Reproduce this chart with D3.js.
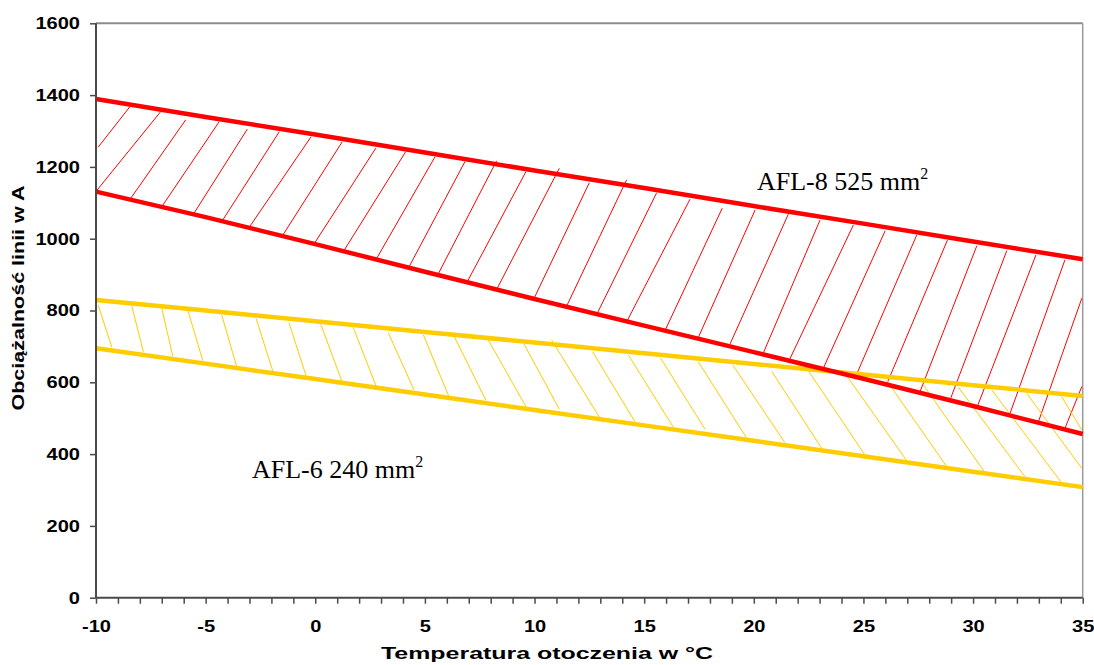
<!DOCTYPE html>
<html>
<head>
<meta charset="utf-8">
<script src="https://cdn.jsdelivr.net/npm/d3@7"></script>
<style>
  html, body { margin: 0; padding: 0; background: #ffffff; }
  svg { display: block; }
</style>
</head>
<body>
<svg id="chart" width="1094" height="665"></svg>
<script>
// ---- data ----
const temps = [-10, -5, 0, 5, 10, 15, 20, 25, 30, 35];
const afl8Upper = [1389, 1339, 1290, 1240, 1190, 1141, 1091, 1042, 992, 943];
const afl8Lower = [1131, 1060, 985, 908, 832, 758, 684, 610, 534, 456];
const afl6Upper = [829, 800, 770, 740, 711, 681, 651, 622, 592, 562];
const afl6Lower = [695, 652, 609, 566, 523, 480, 437, 394, 351, 308];

const yTicks = [0, 200, 400, 600, 800, 1000, 1200, 1400, 1600];
const xTicks = [-10, -5, 0, 5, 10, 15, 20, 25, 30, 35];
const xMinorTicks = d3.range(-10, 36, 1);

const label8 = "AFL-8 525 mm";
const label6 = "AFL-6 240 mm";
const xTitle = "Temperatura otoczenia w °C";
const yTitle = "Obciążalność linii w A";

// hatch strokes [t1, v1, t2, v2]
const afl8Hatch = [
  [-9.90, 1255, -8.45, 1368], [-9.97, 1134, -7.05, 1354], [-8.42, 1112, -5.91, 1331],
  [-7.00, 1089, -4.38, 1326], [-5.53, 1071, -3.10, 1305], [-4.24, 1050, -1.64, 1298],
  [-3.01, 1032, -0.19, 1284], [-1.50, 1008, 1.23, 1270], [-0.06, 985, 2.76, 1252],
  [1.31, 967, 4.12, 1242], [2.80, 945, 5.46, 1228], [4.28, 922, 6.83, 1215],
  [5.61, 902, 8.27, 1217], [6.93, 880, 9.61, 1187], [8.30, 862, 11.13, 1196],
  [9.98, 834, 12.50, 1156], [11.47, 813, 14.20, 1164], [12.86, 792, 15.57, 1128],
  [14.23, 772, 17.09, 1110], [15.95, 744, 18.56, 1085], [17.47, 725, 20.06, 1080],
  [18.92, 707, 21.58, 1069], [20.43, 681, 23.02, 1052], [21.62, 662, 24.54, 1038],
  [23.17, 639, 25.99, 1022], [24.66, 618, 27.43, 1010], [26.09, 599, 28.83, 996],
  [27.58, 574, 30.17, 980], [28.95, 551, 31.54, 967], [30.19, 532, 32.87, 955],
  [31.69, 514, 34.19, 941], [32.98, 490, 34.96, 834], [34.19, 472, 34.96, 588]
];
const afl6Hatch = [
  [-9.90, 815, -9.28, 698], [-8.37, 813, -7.84, 685], [-7.00, 806, -6.50, 673],
  [-5.86, 811, -5.13, 660], [-4.27, 788, -3.56, 639], [-2.70, 778, -1.94, 632],
  [-1.20, 766, -0.42, 618], [0.25, 762, 1.25, 597], [1.73, 753, 2.77, 590],
  [3.33, 738, 4.50, 579], [4.93, 732, 6.11, 558], [6.30, 732, 7.79, 549],
  [7.89, 718, 9.61, 532], [9.49, 710, 11.13, 525], [10.78, 718, 13.11, 488],
  [12.65, 685, 14.58, 490], [14.28, 676, 16.33, 475], [15.75, 667, 17.78, 469],
  [17.47, 657, 19.65, 447], [19.04, 648, 21.42, 432], [20.82, 630, 23.10, 416],
  [22.49, 632, 25.15, 390], [24.16, 625, 26.97, 382], [26.06, 605, 28.80, 365],
  [27.73, 593, 30.55, 348], [29.33, 586, 32.37, 337], [30.85, 579, 34.04, 320],
  [32.45, 569, 34.96, 360], [34.04, 560, 34.96, 467]
];

// ---- drawing ----
const svg = d3.select("#chart");
const x = d3.scaleLinear().domain([-10, 35]).range([96, 1082.7]);
const y = d3.scaleLinear().domain([0, 1600]).range([597.7, 23.3]);

const RED = "#ff0000", GOLD = "#ffcc00";
const SANS = "'Liberation Sans', Arial, sans-serif";
const STRETCH = 1.18;

// frame (top and right)
svg.append("line").attr("x1", x(-10)).attr("x2", x(35)).attr("y1", y(1600)).attr("y2", y(1600))
  .attr("stroke", "#8c8c8c").attr("stroke-width", 2);
svg.append("line").attr("x1", x(35)).attr("x2", x(35)).attr("y1", y(1600)).attr("y2", y(0))
  .attr("stroke", "#9a9a9a").attr("stroke-width", 1.5);

// hatches
const hatchG = svg.append("g");
hatchG.selectAll("line.h8").data(afl8Hatch).join("line")
  .attr("x1", d => x(d[0])).attr("y1", d => y(d[1]))
  .attr("x2", d => x(d[2])).attr("y2", d => y(d[3]))
  .attr("stroke", RED).attr("stroke-width", 1);
hatchG.selectAll("line.h6").data(afl6Hatch).join("line")
  .attr("x1", d => x(d[0])).attr("y1", d => y(d[1]))
  .attr("x2", d => x(d[2])).attr("y2", d => y(d[3]))
  .attr("stroke", GOLD).attr("stroke-width", 1);

// series lines
const line = d3.line().x(d => x(d[0])).y(d => y(d[1]));
const series = [
  { v: afl6Upper, c: GOLD }, { v: afl6Lower, c: GOLD },
  { v: afl8Upper, c: RED }, { v: afl8Lower, c: RED }
];
svg.selectAll("path.s").data(series).join("path")
  .attr("fill", "none").attr("stroke", d => d.c).attr("stroke-width", 4.5)
  .attr("d", d => line(temps.map((t, i) => [t, d.v[i]])));

// axes
const yAxis = d3.axisLeft(y).tickValues(yTicks).tickSize(6).tickPadding(10).tickFormat(d => String(d));
const gy = svg.append("g").attr("transform", `translate(${x(-10)},0)`).call(yAxis);
const xAxis = d3.axisBottom(x).tickValues(xMinorTicks).tickSize(6).tickPadding(16)
  .tickFormat(d => xTicks.includes(d) ? String(d) : "");
const gx = svg.append("g").attr("transform", `translate(0,${y(0)})`).call(xAxis);

[gy, gx].forEach(g => {
  g.select(".domain").attr("stroke", "#4a4a4a").attr("stroke-width", 2);
  g.selectAll(".tick line").attr("stroke", "#4a4a4a").attr("stroke-width", 1.5);
  g.selectAll(".tick text").attr("fill", "#000").attr("font-family", SANS)
    .attr("font-weight", "bold").attr("font-size", 17);
});
gx.select(".domain").attr("d", `M${x(-10)},0H${x(35)}`);
gy.select(".domain").attr("d", `M0,${y(0)}V${y(1600)}`);

// horizontal stretch of tick labels (as in the reference rendering)
svg.selectAll(".tick text").each(function () {
  const w = this.getComputedTextLength();
  if (w > 0) d3.select(this).attr("textLength", w * STRETCH).attr("lengthAdjust", "spacingAndGlyphs");
});

// titles
svg.append("text").attr("x", 547).attr("y", 659).attr("text-anchor", "middle")
  .attr("font-family", SANS).attr("font-weight", "bold").attr("font-size", 16)
  .attr("textLength", 332).attr("lengthAdjust", "spacingAndGlyphs")
  .text(xTitle);
svg.append("text").attr("transform", "translate(24,298) rotate(-90)").attr("text-anchor", "middle")
  .attr("font-family", SANS).attr("font-weight", "bold").attr("font-size", 17)
  .attr("textLength", 225).attr("lengthAdjust", "spacingAndGlyphs")
  .text(yTitle);

// annotations
function annot(tx, ty, txt) {
  const t = svg.append("text").attr("x", tx).attr("y", ty)
    .attr("font-family", "'Liberation Serif', 'Times New Roman', serif").attr("font-size", 26).attr("fill", "#000");
  t.append("tspan").text(txt);
  t.append("tspan").attr("font-size", 16).attr("dy", -11).text("2");
}
annot(757, 190, label8);
annot(252, 478, label6);
</script>
</body>
</html>
